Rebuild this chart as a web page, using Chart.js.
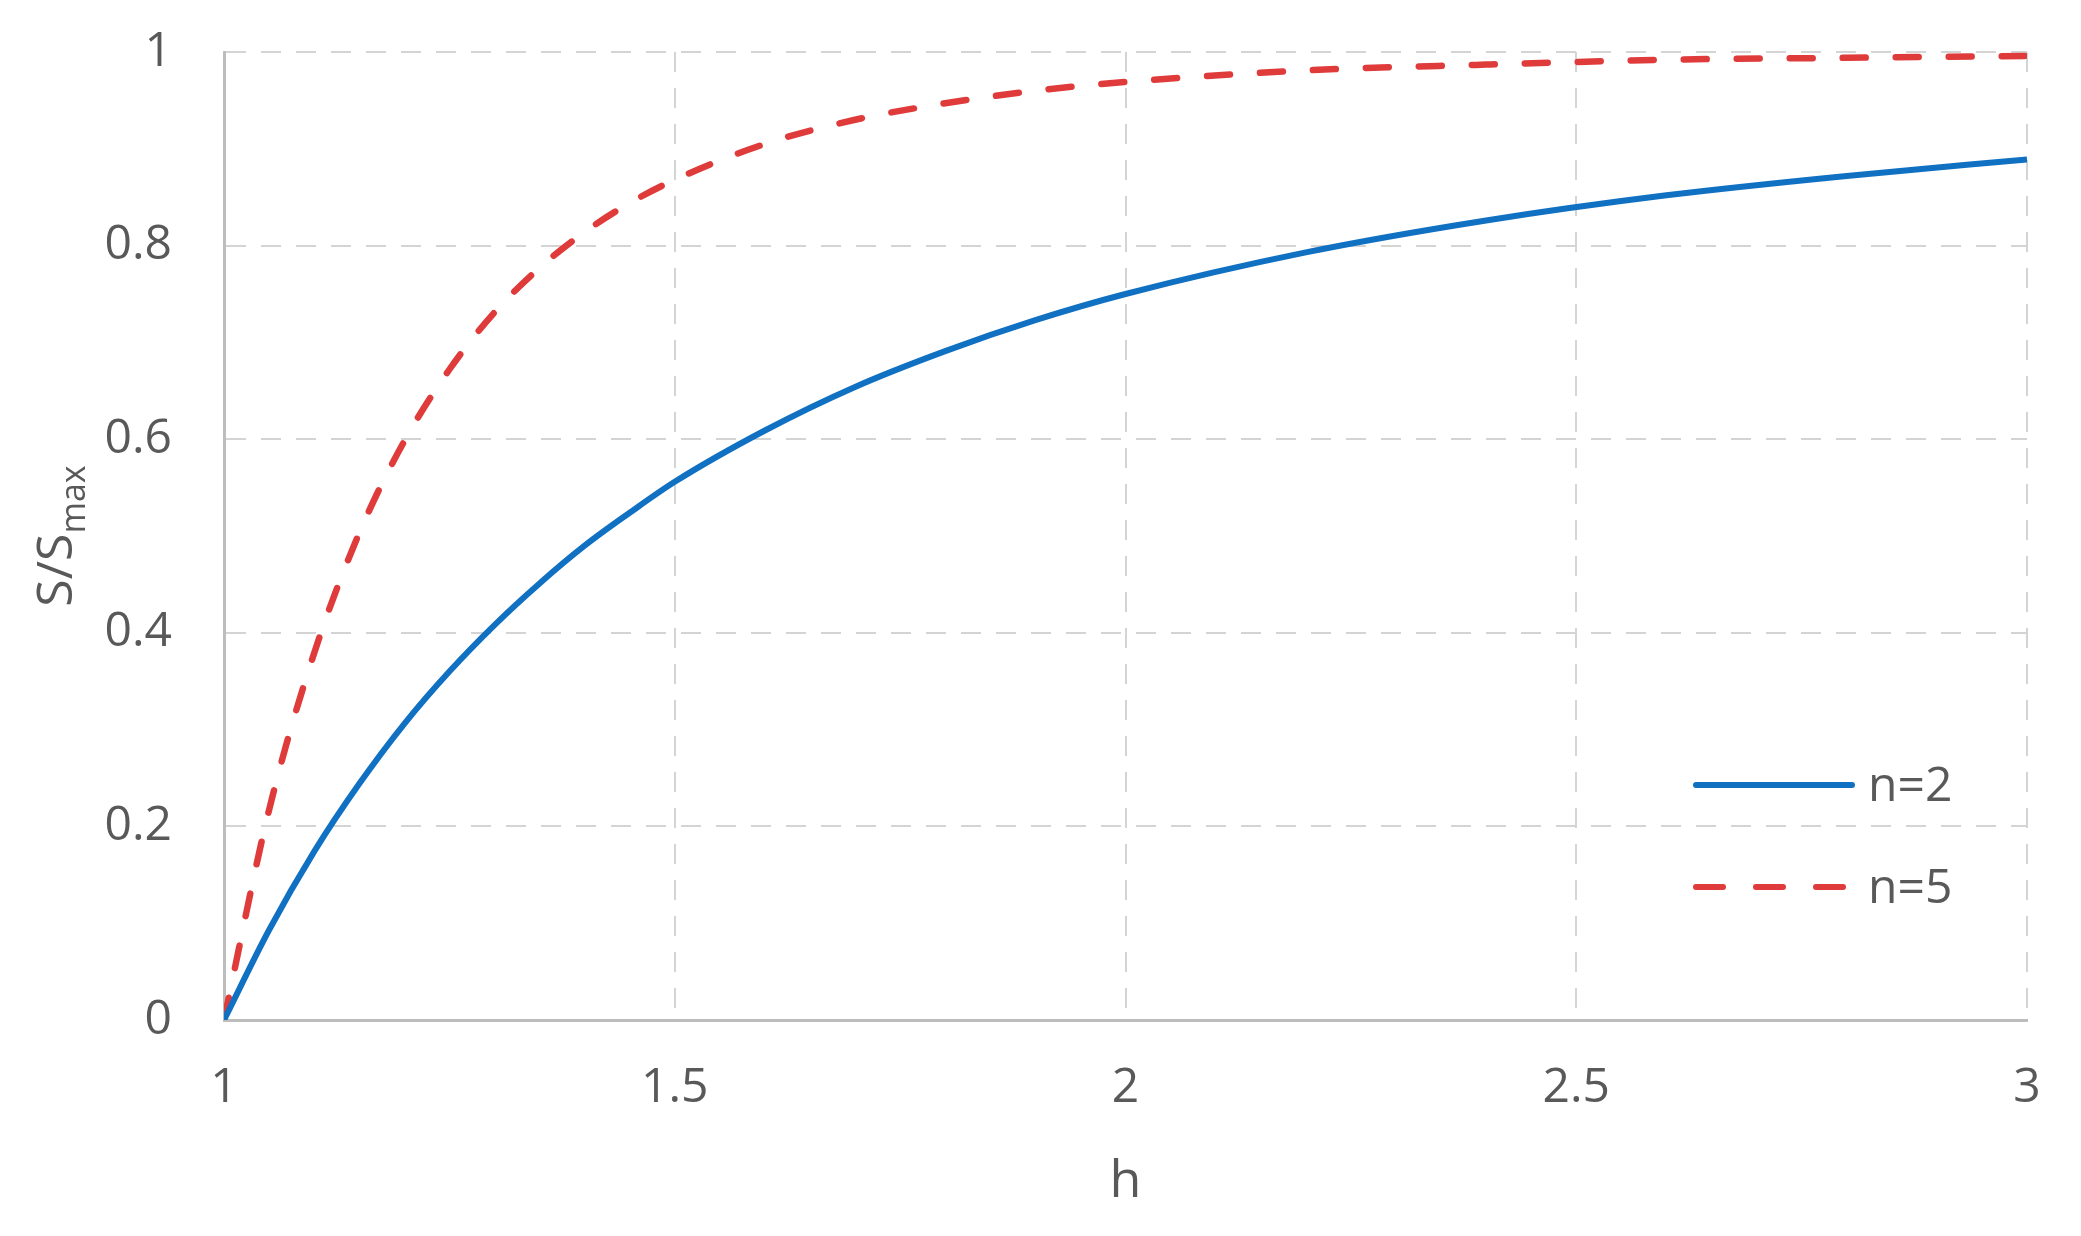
<!DOCTYPE html>
<html>
<head>
<meta charset="utf-8">
<script src="https://cdn.jsdelivr.net/npm/chart.js@4/dist/chart.umd.min.js"></script>
<style>
  html, body { margin: 0; padding: 0; background: #fff; }
  #wrap { width: 2081px; height: 1236px; position: relative; }
</style>
</head>
<body>
<div id="wrap"><canvas id="ratioChart"></canvas></div>
<script>
// values
const hValues = [1, 1.05, 1.1, 1.15, 1.2, 1.25, 1.3, 1.35, 1.4, 1.45, 1.5,
                 1.6, 1.7, 1.8, 1.9, 2, 2.2, 2.4, 2.6, 2.8, 3];
const n2Values = [0, 0.093, 0.174, 0.244, 0.306, 0.36, 0.408, 0.451, 0.49, 0.524, 0.556,
                  0.609, 0.654, 0.691, 0.723, 0.75, 0.793, 0.826, 0.852, 0.872, 0.889];
const n5Values = [0, 0.217, 0.379, 0.503, 0.598, 0.672, 0.731, 0.777, 0.814, 0.844, 0.868,
                  0.905, 0.93, 0.947, 0.96, 0.969, 0.981, 0.987, 0.992, 0.994, 0.996];
const seriesNames = ['n=2', 'n=5'];
const xTickLabels = ['1', '1.5', '2', '2.5', '3'];
const yTickLabels = ['0', '0.2', '0.4', '0.6', '0.8', '1'];
const xTitle = 'h';
const yTitleMain = 'S/S';
const yTitleSub = 'max';

const textColor = '#595959';
const fontFamily = '"Open Sans", "Noto Sans", sans-serif';
const blue = '#1070c2';
const red = '#e03b3b';

function toPoints(ys) {
    return hValues.map(function(x, i) { return { x: x, y: ys[i] }; });
}

// axis titles (with subscript) and the in-plot legend
const decorations = {
    id: 'decorations',
    afterDraw: function(chart) {
        const ctx = chart.ctx;
        const area = chart.chartArea;
        ctx.save();
        ctx.fillStyle = textColor;

        // x title
        ctx.font = '52px ' + fontFamily;
        ctx.textAlign = 'center';
        ctx.textBaseline = 'alphabetic';
        ctx.fillText(xTitle, (area.left + area.right) / 2, 1197);

        // y title, rotated, with subscript
        ctx.save();
        ctx.translate(72, (area.top + area.bottom) / 2);
        ctx.rotate(-Math.PI / 2);
        ctx.font = '50px ' + fontFamily;
        const mainW = ctx.measureText(yTitleMain).width;
        ctx.font = '34px ' + fontFamily;
        const subW = ctx.measureText(yTitleSub).width;
        const start = -(mainW + subW) / 2;
        ctx.textAlign = 'left';
        ctx.font = '50px ' + fontFamily;
        ctx.fillText(yTitleMain, start, 0);
        ctx.font = '34px ' + fontFamily;
        ctx.fillText(yTitleSub, start + mainW, 13);
        ctx.restore();

        // legend
        const lx1 = area.right - 334;
        const lx2 = area.right - 175;
        const rows = [
            { y: 785, color: blue, dash: [] },
            { y: 887, color: red, dash: [27, 33] }
        ];
        rows.forEach(function(r, i) {
            ctx.beginPath();
            ctx.setLineDash(r.dash);
            ctx.lineCap = 'round';
            ctx.lineWidth = 6;
            ctx.strokeStyle = r.color;
            ctx.moveTo(lx1 + 3, r.y);
            ctx.lineTo(lx2, r.y);
            ctx.stroke();
            ctx.setLineDash([]);
            ctx.font = '48px ' + fontFamily;
            ctx.textAlign = 'left';
            ctx.textBaseline = 'middle';
            ctx.fillStyle = textColor;
            ctx.fillText(seriesNames[i], area.right - 159, r.y + 2);
        });
        ctx.restore();
    }
};

document.addEventListener('DOMContentLoaded', function() {
    const ctx = document.getElementById('ratioChart').getContext('2d');
    new Chart(ctx, {
        type: 'line',
        data: {
            datasets: [{
                label: seriesNames[0],
                data: toPoints(n2Values),
                borderColor: blue,
                borderWidth: 6,
                pointRadius: 0,
                cubicInterpolationMode: 'monotone',
                fill: false
            }, {
                label: seriesNames[1],
                data: toPoints(n5Values),
                borderColor: red,
                borderWidth: 6.5,
                borderDash: [23, 30],
                borderCapStyle: 'round',
                pointRadius: 0,
                cubicInterpolationMode: 'monotone',
                fill: false
            }]
        },
        options: {
            responsive: true,
            maintainAspectRatio: false,
            animation: false,
            layout: {
                padding: { top: 52, right: 54, left: 0, bottom: 0 }
            },
            plugins: {
                legend: { display: false },
                tooltip: { enabled: false }
            },
            scales: {
                x: {
                    type: 'linear',
                    min: 1,
                    max: 3,
                    afterFit: function(scale) {
                        scale.height = 216;
                        scale.paddingLeft = 0;
                        scale.paddingRight = 0;
                    },
                    afterBuildTicks: function(scale) {
                        scale.ticks = xTickLabels.map(function(l) { return { value: parseFloat(l) }; });
                    },
                    ticks: {
                        padding: 40,
                        color: textColor,
                        font: { family: fontFamily, size: 48 },
                        maxRotation: 0,
                        callback: function(value, index) { return xTickLabels[index]; }
                    },
                    grid: {
                        color: '#d4d4d4',
                        lineWidth: 2,
                        drawTicks: false
                    },
                    border: {
                        display: true,
                        color: '#bdbdbd',
                        width: 3,
                        dash: [20, 16]
                    }
                },
                y: {
                    min: 0,
                    max: 1,
                    afterFit: function(scale) {
                        scale.width = 224;
                        scale.paddingTop = 0;
                        scale.paddingBottom = 0;
                    },
                    afterBuildTicks: function(scale) {
                        scale.ticks = yTickLabels.map(function(l) { return { value: parseFloat(l) }; });
                    },
                    ticks: {
                        padding: 52,
                        color: textColor,
                        font: { family: fontFamily, size: 48 },
                        callback: function(value, index) { return yTickLabels[index]; }
                    },
                    grid: {
                        color: '#d4d4d4',
                        lineWidth: 2,
                        drawTicks: false
                    },
                    border: {
                        display: true,
                        color: '#bdbdbd',
                        width: 3,
                        dash: [20, 15]
                    }
                }
            }
        },
        plugins: [decorations]
    });
});
</script>
</body>
</html>
